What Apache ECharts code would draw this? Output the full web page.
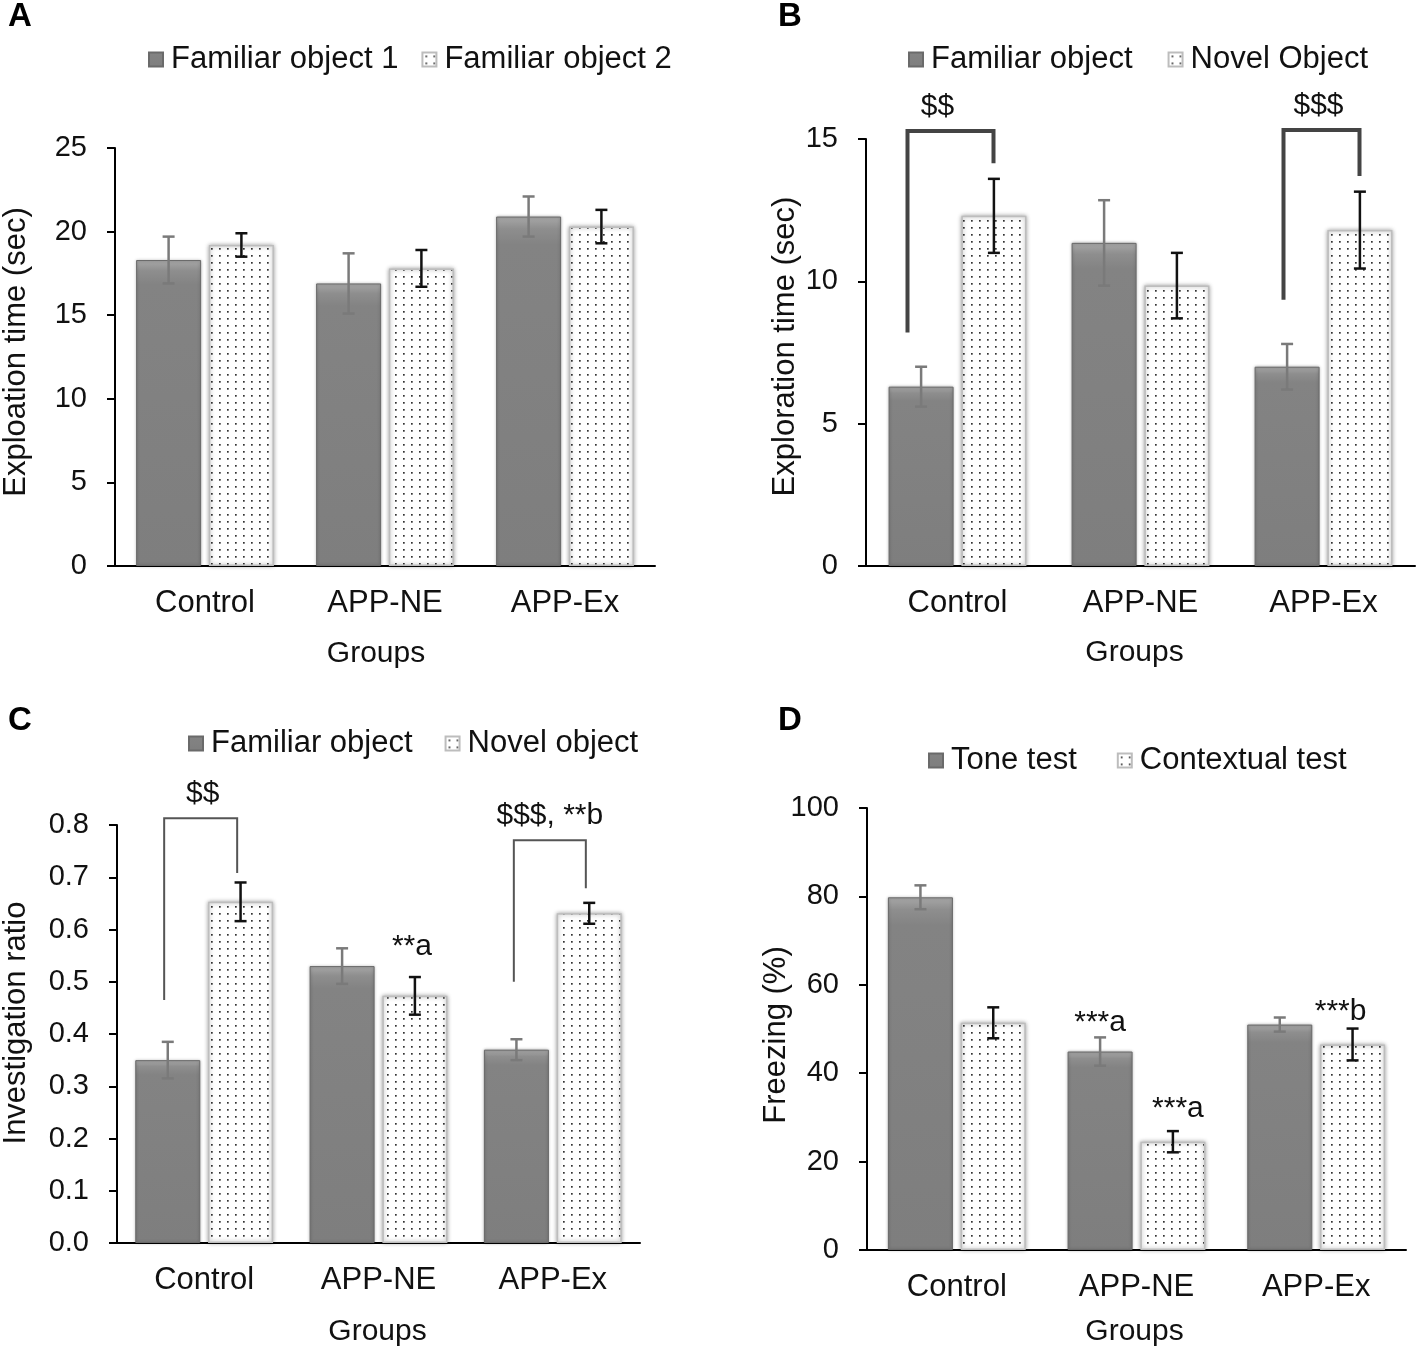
<!DOCTYPE html>
<html><head><meta charset="utf-8">
<script src="https://cdn.jsdelivr.net/npm/echarts@6/dist/echarts.min.js"></script>
<style>html,body{margin:0;padding:0;background:#fff}#c{width:1416px;height:1348px}</style>
</head><body><div id="c"></div>
<script>
// ---------- DATA ----------
const groups = ['Control', 'APP-NE', 'APP-Ex'];

// Panel A
const aNames = ['Familiar object 1', 'Familiar object 2'];
const aS1 = [18.3, 16.9, 20.9];
const aS1Err = [1.4, 1.8, 1.2];
const aS2 = [19.2, 17.8, 20.3];
const aS2Err = [0.7, 1.1, 1.0];
const aYMax = 25, aYStep = 5;

// Panel B
const bNames = ['Familiar object', 'Novel Object'];
const bS1 = [6.3, 11.35, 7.0];
const bS1Err = [0.7, 1.5, 0.8];
const bS2 = [12.3, 9.85, 11.8];
const bS2Err = [1.3, 1.15, 1.35];
const bYMax = 15, bYStep = 5;
// brackets: [category, left end, top, right end]
const bBrackets = [[0, 8.2, 15.28, 14.15], [2, 9.35, 15.32, 13.7]];
const bBracketText = ['$$', '$$$'];

// Panel C
const cNames = ['Familiar object', 'Novel object'];
const cS1 = [0.35, 0.53, 0.37];
const cS1Err = [0.035, 0.034, 0.02];
const cS2 = [0.653, 0.473, 0.631];
const cS2Err = [0.037, 0.036, 0.02];
const cS2Annot = ['', '**a', ''];
const cYMax = 0.8, cYStep = 0.1;
const cBrackets = [[0, 0.465, 0.813, 0.708], [2, 0.5, 0.771, 0.679]];
const cBracketText = ['$$', '$$$, **b'];

// Panel D
const dNames = ['Tone test', 'Contextual test'];
const dS1 = [79.8, 44.9, 51.0];
const dS1Err = [2.7, 3.2, 1.6];
const dS1Annot = ['', '***a', ''];
const dS2 = [51.4, 24.5, 46.5];
const dS2Err = [3.5, 2.4, 3.6];
const dS2Annot = ['', '***a', '***b'];
const dYMax = 100, dYStep = 20;

// ---------- STYLE ----------
const FONT = '"Liberation Sans", Arial, sans-serif';
const FS = 30;      // annotation / axis name size
const FS_CAT = 31;  // category + legend size
const FS_TICK = 29; // tick label size
const BAR_W = 65;
const OFF = 36.4;

function dotPattern() {
  const c = document.createElement('canvas');
  c.width = 8; c.height = 7;
  const g = c.getContext('2d');
  g.fillStyle = '#ffffff'; g.fillRect(0, 0, 8, 7);
  g.fillStyle = '#333333'; g.fillRect(3, 3, 1.7, 1.7);
  return c;
}
const pat = dotPattern();

const grayStyle = {
  color: { type: 'linear', x: 0, y: 0, x2: 0, y2: 1, colorStops: [
    { offset: 0, color: '#a8a8a8' }, { offset: 0.035, color: '#8e8e8e' }, { offset: 0.08, color: '#838383' }, { offset: 1, color: '#7e7e7e' }] },
  borderColor: '#6a6a6a', borderWidth: 1,
  shadowBlur: 3, shadowColor: 'rgba(0,0,0,0.3)'
};
const dotStyle = {
  color: { image: pat, repeat: 'repeat' },
  borderColor: '#bdbdbd', borderWidth: 1.5,
  shadowBlur: 4, shadowColor: 'rgba(0,0,0,0.35)'
};

function withAnnot(vals, annots, dist, dxs) {
  return vals.map((v, i) => (annots && annots[i]) ? {
    value: v,
    label: { show: true, position: 'top', distance: dist, offset: [dxs[i], 0], formatter: annots[i],
      fontSize: FS, fontFamily: FONT, color: '#111' }
  } : v);
}

function errRender(offset, color) {
  return function (params, api) {
    const c = api.value(0), v = api.value(1), e = api.value(2);
    const t = api.coord([c, v + e]);
    const b = api.coord([c, v - e]);
    const x = t[0] + offset;
    const st = { stroke: color, lineWidth: 2.5 };
    return { type: 'group', children: [
      { type: 'line', shape: { x1: x, y1: t[1], x2: x, y2: b[1] }, style: st },
      { type: 'line', shape: { x1: x - 6, y1: t[1], x2: x + 6, y2: t[1] }, style: st },
      { type: 'line', shape: { x1: x - 6, y1: b[1], x2: x + 6, y2: b[1] }, style: st }
    ] };
  };
}

function bracketRender(texts, lw, color, lOffs, rOff, tdx) {
  return function (params, api) {
    const i = params.dataIndex;
    const c = api.value(0);
    const pL = api.coord([c, api.value(1)]);
    const pT = api.coord([c, api.value(2)]);
    const pR = api.coord([c, api.value(3)]);
    const xl = pL[0] + lOffs[i], xr = pL[0] + rOff;
    return { type: 'group', children: [
      { type: 'polyline', shape: { points: [[xl, pL[1]], [xl, pT[1]], [xr, pT[1]], [xr, pR[1]]] },
        style: { stroke: color, lineWidth: lw, fill: null } },
      { type: 'text', style: { text: texts[i], x: (xl + xr) / 2 + tdx[i], y: pT[1] - 9,
        align: 'center', verticalAlign: 'bottom', font: FS + 'px ' + FONT, fill: '#111' } }
    ] };
  };
}

// ---------- PANELS ----------
const grids = [
  { left: 115, top: 148, width: 540, height: 418 },
  { left: 866, top: 139, width: 549, height: 427 },
  { left: 115, top: 825, width: 525, height: 418 },
  { left: 867, top: 808, width: 539, height: 447 }
];
const yCfg = [
  { max: aYMax, step: aYStep, name: 'Exploation time (sec)', gap: 83, pad: [0, 0, 0, 10], fmt: v => String(v) },
  { max: bYMax, step: bYStep, name: 'Exploration time (sec)', gap: 65, pad: [0, 0, 0, 12], fmt: v => String(v) },
  { max: cYMax, step: cYStep, name: 'Investigation ratio', gap: 85, pad: [0, 0, 0, 22], fmt: v => v.toFixed(1) },
  { max: dYMax, step: dYStep, name: 'Freezing (%)', gap: 75, pad: [0, 12, 0, 0], fmt: v => String(v) }
];
const xNameCfg = [
  { gap: 73, pad: [0, 18, 0, 0] },
  { gap: 72, pad: [0, 12, 0, 0] },
  { gap: 74, pad: [0, 2, 0, 0] },
  { gap: 67, pad: [0, 4, 0, 0] }
];

const xAxis = grids.map((g, i) => ({
  type: 'category', gridIndex: i, data: groups,
  axisLine: { lineStyle: { color: '#000', width: 2 } },
  axisTick: { show: false },
  axisLabel: { fontSize: FS_CAT, fontFamily: FONT, color: '#111', margin: 22 },
  name: 'Groups', nameLocation: 'middle', nameGap: xNameCfg[i].gap, nameMoveOverlap: false,
  nameTextStyle: { fontSize: FS, fontFamily: FONT, color: '#111', padding: xNameCfg[i].pad }
}));
const yAxis = yCfg.map((y, i) => ({
  type: 'value', gridIndex: i, min: 0, max: y.max, interval: y.step,
  axisLine: { show: true, lineStyle: { color: '#000', width: 2 } },
  axisTick: { show: true, length: 8, lineStyle: { color: '#000', width: 2 } },
  splitLine: { show: false },
  axisLabel: { fontSize: FS_TICK, fontFamily: FONT, color: '#111', margin: 28, formatter: y.fmt },
  name: y.name, nameLocation: 'middle', nameGap: y.gap, nameRotate: 90, nameMoveOverlap: false,
  nameTextStyle: { fontSize: FS_CAT, fontFamily: FONT, color: '#111', padding: y.pad }
}));

const panelData = [
  { names: aNames, s1: aS1, e1: aS1Err, s2: aS2, e2: aS2Err },
  { names: bNames, s1: bS1, e1: bS1Err, s2: bS2, e2: bS2Err },
  { names: cNames, s1: cS1, e1: cS1Err, s2: withAnnot(cS2, cS2Annot, 34, [0, -3, 0]), e2: cS2Err, raw2: cS2 },
  { names: dNames, s1: withAnnot(dS1, dS1Annot, 14, [0, 0, 0]), e1: dS1Err, raw1: dS1,
    s2: withAnnot(dS2, dS2Annot, 18, [0, 5, -12]), e2: dS2Err, raw2: dS2 }
];

const series = [];
panelData.forEach((p, i) => {
  const r1 = p.raw1 || p.s1, r2 = p.raw2 || p.s2;
  series.push({ type: 'bar', name: p.names[0], xAxisIndex: i, yAxisIndex: i, data: p.s1,
    barWidth: BAR_W, barGap: '12%', itemStyle: grayStyle, z: 2 });
  series.push({ type: 'bar', name: p.names[1], xAxisIndex: i, yAxisIndex: i, data: p.s2,
    barWidth: BAR_W, barGap: '12%', itemStyle: dotStyle, z: 2 });
  series.push({ type: 'custom', xAxisIndex: i, yAxisIndex: i, z: 5, silent: true,
    renderItem: errRender(-OFF, '#7a7a7a'), data: r1.map((v, k) => [k, v, p.e1[k]]) });
  series.push({ type: 'custom', xAxisIndex: i, yAxisIndex: i, z: 5, silent: true,
    renderItem: errRender(OFF, '#111'), data: r2.map((v, k) => [k, v, p.e2[k]]) });
});
series.push({ type: 'custom', xAxisIndex: 1, yAxisIndex: 1, z: 6, silent: true, clip: false,
  renderItem: bracketRender(bBracketText, 4, '#444', [-50, -40], 36, [-13, -3]), data: bBrackets });
series.push({ type: 'custom', xAxisIndex: 2, yAxisIndex: 2, z: 6, silent: true, clip: false,
  renderItem: bracketRender(cBracketText, 2, '#555', [-40, -39], 33, [2, 0]), data: cBrackets });

const legendCfg = [
  { left: 148, top: 44, gap: 23 },
  { left: 908, top: 44, gap: 35 },
  { left: 188, top: 728, gap: 32 },
  { left: 928, top: 745, gap: 40 }
];
const legend = panelData.map((p, i) => ({
  data: p.names, left: legendCfg[i].left, top: legendCfg[i].top, padding: 0,
  itemWidth: 14, itemHeight: 14, itemGap: legendCfg[i].gap, icon: 'rect',
  selectedMode: false,
  textStyle: { fontSize: FS_CAT, fontFamily: FONT, color: '#111', padding: [0, 0, 0, 3] }
}));

const letters = [['A', 8, 0], ['B', 778, 0], ['C', 8, 704], ['D', 778, 704]];
const graphic = letters.map(l => ({
  type: 'text', left: l[1], top: l[2],
  style: { text: l[0], font: 'bold 33px ' + FONT, fill: '#000' }
}));

const chart = echarts.init(document.getElementById('c'), null, { renderer: 'canvas' });
chart.setOption({
  backgroundColor: '#fff',
  animation: false,
  grid: grids,
  xAxis, yAxis, series, legend, graphic
});
</script></body></html>
